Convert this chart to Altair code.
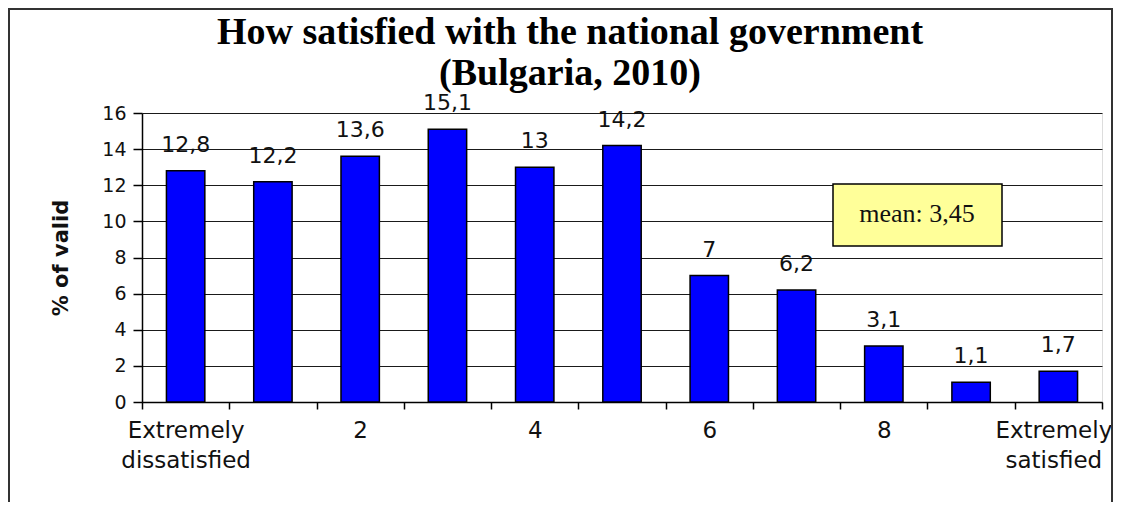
import json
import altair as alt
import pandas as pd

# ---- data ----
categories = list(range(11))
category_names = ["Extremely dissatisfied", "1", "2", "3", "4", "5", "6", "7", "8", "9", "Extremely satisfied"]
percent_valid = [12.8, 12.2, 13.6, 15.1, 13.0, 14.2, 7.0, 6.2, 3.1, 1.1, 1.7]
value_labels = ["12,8", "12,2", "13,6", "15,1", "13", "14,2", "7", "6,2", "3,1", "1,1", "1,7"]
tick_labels = [["Extremely", "dissatisfied"], "", "2", "", "4", "", "6", "", "8", "", ["Extremely", "satisfied"]]
y_ticks = [0, 2, 4, 6, 8, 10, 12, 14, 16]
mean_value = "3,45"
title_lines = ["How satisfied with the national government", "(Bulgaria, 2010)"]

df = pd.DataFrame({"cat": categories, "name": category_names,
                   "pct": percent_valid, "lbl": value_labels})

x_values = sorted([c - 0.5 for c in categories] + [categories[-1] + 0.5] + categories)
label_expr = f"datum.value % 1 === 0 ? {json.dumps(tick_labels)}[datum.value] : ''"

x_scale = alt.Scale(domain=[-0.5, 10.5], nice=False, zero=False)
y_scale = alt.Scale(domain=[0, 16], nice=False)

x_axis = alt.Axis(values=x_values, labelExpr=label_expr, grid=False,
                  tickColor={"condition": {"test": "datum.value % 1 === 0", "value": "transparent"},
                             "value": "#000000"},
                  tickSize=7, tickWidth=1.5, domainColor="#000000", domainWidth=1.5,
                  labelFont="DejaVu Sans", labelFontSize=23, labelColor="#111111",
                  labelLineHeight=30, labelPadding=10, labelOverlap=False,
                  labelOffset={"condition": {"test": f"datum.value === {categories[-1]}", "value": -5},
                               "value": 0},
                  labelFlush=False)
y_axis = alt.Axis(values=y_ticks, grid=True, gridColor="#1a1a1a", gridWidth=1.2,
                  tickColor="#000000", tickSize=9, tickWidth=1.5,
                  domainColor="#000000", domainWidth=1.5,
                  labelFont="DejaVu Sans", labelFontSize=19, labelColor="#111111",
                  labelPadding=7, labelOverlap=False,
                  titleFont="DejaVu Sans", titleFontSize=21, titleFontWeight="bold",
                  titleColor="#111111", titlePadding=30)

base = alt.Chart(df).transform_calculate(
    x0="datum.cat - 0.22", x1="datum.cat + 0.22", zero="0"
)

bars = base.mark_bar(color="#0000FF", stroke="#000000", strokeWidth=1.5).encode(
    x=alt.X("x0:Q", scale=x_scale, title=None, axis=x_axis),
    x2="x1:Q",
    y=alt.Y("pct:Q", scale=y_scale, title="% of valid", axis=y_axis),
    y2="zero:Q",
)

texts = base.mark_text(font="DejaVu Sans", fontSize=22, color="#111111",
                       baseline="alphabetic", dy=-19).encode(
    x=alt.X("cat:Q", scale=x_scale, title=None, axis=x_axis),
    y=alt.Y("pct:Q", scale=y_scale, title="% of valid", axis=y_axis),
    text="lbl:N",
)

ann = alt.Chart(pd.DataFrame({"t": ["mean: " + mean_value], "t1": [title_lines[0]], "t2": [title_lines[1]]}))
box = ann.mark_rect(fill="#FFFF99", stroke="#000000", strokeWidth=1.5).encode(
    x=alt.value(691), x2=alt.value(860), y=alt.value(71), y2=alt.value(133))
box_text = ann.mark_text(font="Liberation Serif", fontSize=26, color="#111111",
                         baseline="middle", align="center").encode(
    x=alt.value(775), y=alt.value(101), text="t:N")
frame = ann.mark_rect(fill="transparent", stroke="#333333", strokeWidth=2).encode(
    x=alt.value(-133), x2=alt.value(970), y=alt.value(-104), y2=alt.value(420))

title_style = dict(font="Liberation Serif", fontSize=38, fontWeight="bold",
                   color="#000000", align="center", baseline="alphabetic")
title1 = ann.mark_text(**title_style).encode(x=alt.value(428), y=alt.value(-69), text="t1:N")
title2 = ann.mark_text(**title_style).encode(x=alt.value(428), y=alt.value(-28), text="t2:N")

chart = alt.layer(frame, bars, texts, box, box_text, title1, title2).properties(
    width=960, height=289,
    autosize=alt.AutoSizeParams(type="none"),
    padding={"left": 134, "top": 105, "right": 12, "bottom": 100},
).configure_view(fill="#C0C0C0", stroke="#808080", strokeWidth=2
).configure(background="#FFFFFF")

chart.save("out.html", embed_options={"renderer": "svg", "actions": False})
